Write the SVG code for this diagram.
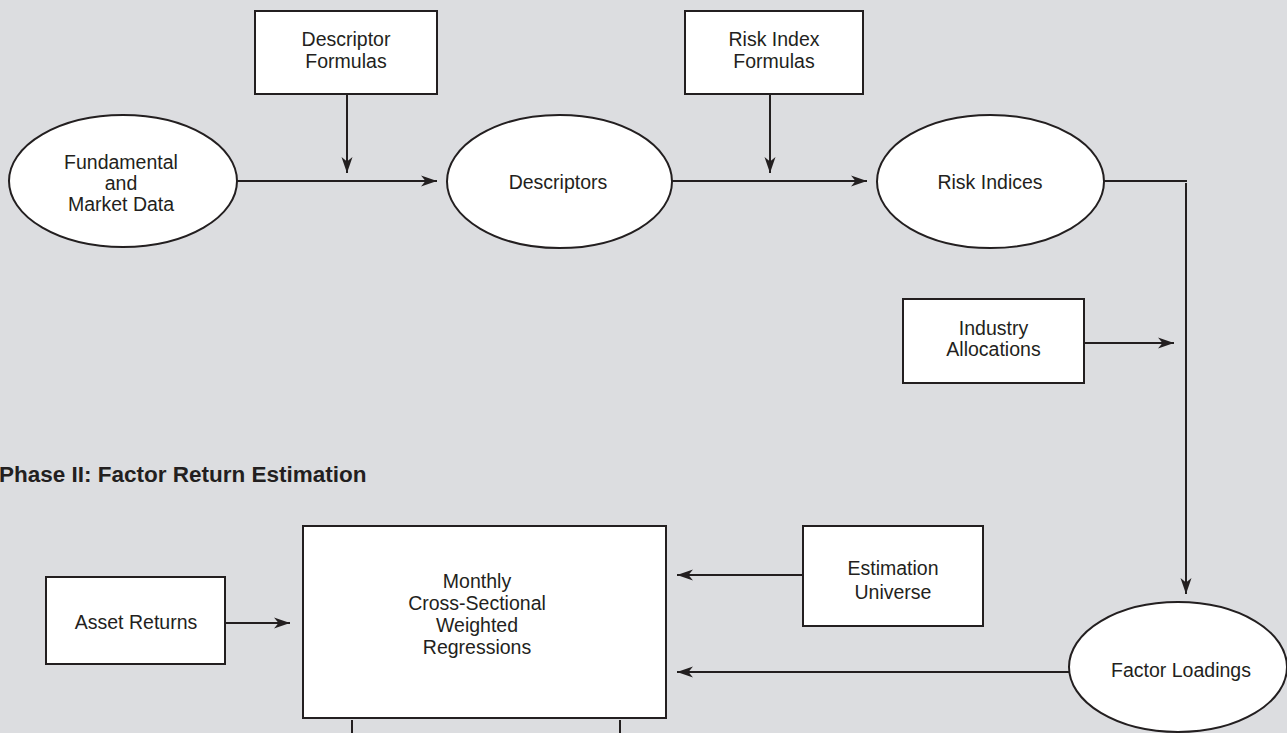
<svg xmlns="http://www.w3.org/2000/svg" width="1287" height="733" viewBox="0 0 1287 733">
<style>
.box{fill:#ffffff;stroke:#231f20;stroke-width:2}
.ln{fill:none;stroke:#231f20;stroke-width:2}
.t{font-family:"Liberation Sans",Arial,sans-serif;font-size:19.5px;fill:#231f20;text-anchor:middle}
.h{font-family:"Liberation Sans",Arial,sans-serif;font-size:22.5px;font-weight:bold;fill:#231f20}
</style>
<defs>
<marker id="ah" markerUnits="userSpaceOnUse" markerWidth="17" markerHeight="14" refX="16" refY="7" orient="auto">
<path d="M0,1.5 L16,7 L0,12.5 L4.5,7 z" fill="#231f20"/>
</marker>
</defs>
<rect x="0" y="0" width="1287" height="733" fill="#dcdde0"/>

<g id="connectors">
<line class="ln" x1="237" y1="181" x2="437" y2="181" marker-end="url(#ah)"/>
<line class="ln" x1="347" y1="94" x2="347" y2="173" marker-end="url(#ah)"/>
<line class="ln" x1="672" y1="181" x2="867" y2="181" marker-end="url(#ah)"/>
<line class="ln" x1="770" y1="94" x2="770" y2="173" marker-end="url(#ah)"/>
<line class="ln" x1="1104" y1="181" x2="1187" y2="181"/>
<line class="ln" x1="1186" y1="183" x2="1186" y2="594" marker-end="url(#ah)"/>
<line class="ln" x1="1084" y1="343" x2="1174" y2="343" marker-end="url(#ah)"/>
<line class="ln" x1="225" y1="623" x2="290" y2="623" marker-end="url(#ah)"/>
<line class="ln" x1="803" y1="575" x2="677" y2="575" marker-end="url(#ah)"/>
<line class="ln" x1="1069" y1="672" x2="677" y2="672" marker-end="url(#ah)"/>
<line class="ln" x1="352" y1="720" x2="352" y2="733"/>
<line class="ln" x1="620" y1="720" x2="620" y2="733"/>
</g>

<g id="descriptor-formulas">
<rect class="box" x="255" y="11" width="182" height="83"/>
<text class="t" x="346" y="46">Descriptor</text>
<text class="t" x="346" y="68">Formulas</text>
</g>

<g id="risk-index-formulas">
<rect class="box" x="685" y="11" width="178" height="83"/>
<text class="t" x="774" y="46">Risk Index</text>
<text class="t" x="774" y="68">Formulas</text>
</g>

<g id="fundamental-data">
<ellipse class="box" cx="123" cy="181" rx="114" ry="66"/>
<text class="t" x="121" y="169">Fundamental</text>
<text class="t" x="121" y="190">and</text>
<text class="t" x="121" y="211">Market Data</text>
</g>

<g id="descriptors">
<ellipse class="box" cx="559.5" cy="181.5" rx="112.5" ry="66.5"/>
<text class="t" x="558" y="189">Descriptors</text>
</g>

<g id="risk-indices">
<ellipse class="box" cx="990.5" cy="181.5" rx="113.5" ry="66.5"/>
<text class="t" x="990" y="189">Risk Indices</text>
</g>

<g id="industry-allocations">
<rect class="box" x="903" y="299" width="181" height="84"/>
<text class="t" x="993.5" y="335">Industry</text>
<text class="t" x="993.5" y="356">Allocations</text>
</g>

<g id="phase-title">
<text class="h" x="-1" y="482">Phase II: Factor Return Estimation</text>
</g>

<g id="asset-returns">
<rect class="box" x="46" y="577" width="179" height="87"/>
<text class="t" x="136" y="629">Asset Returns</text>
</g>

<g id="regressions">
<rect class="box" x="303" y="526" width="363" height="192"/>
<text class="t" x="477" y="588">Monthly</text>
<text class="t" x="477" y="610">Cross-Sectional</text>
<text class="t" x="477" y="632">Weighted</text>
<text class="t" x="477" y="654">Regressions</text>
</g>

<g id="estimation-universe">
<rect class="box" x="803" y="526" width="180" height="100"/>
<text class="t" x="893" y="575">Estimation</text>
<text class="t" x="893" y="599">Universe</text>
</g>

<g id="factor-loadings">
<ellipse class="box" cx="1178" cy="667" rx="109" ry="65"/>
<text class="t" x="1181" y="677">Factor Loadings</text>
</g>
</svg>
